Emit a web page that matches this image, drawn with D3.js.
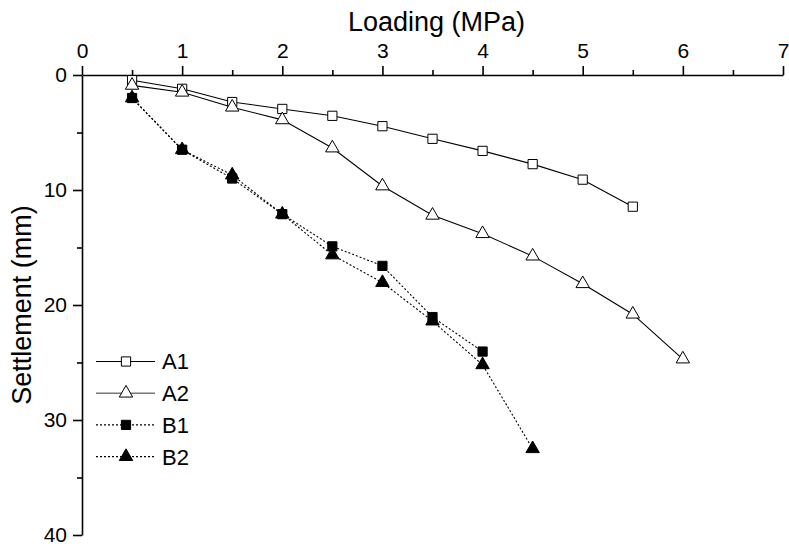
<!DOCTYPE html>
<html>
<head>
<meta charset="utf-8">
<script src="https://cdn.jsdelivr.net/npm/d3@7"></script>
<style>
  body { margin: 0; background: #fff; }
  svg text { font-family: Arial, "Liberation Sans", sans-serif; fill: #000; }
</style>
</head>
<body>
<svg id="chart"></svg>
<script>
// Loading steps (MPa)
const loadA1 = [0.5, 1, 1.5, 2, 2.5, 3, 3.5, 4, 4.5, 5, 5.5];
const loadA2 = [0.5, 1, 1.5, 2, 2.5, 3, 3.5, 4, 4.5, 5, 5.5, 6];
const loadB1 = [0.5, 1, 1.5, 2, 2.5, 3, 3.5, 4];
const loadB2 = [0.5, 1, 1.5, 2, 2.5, 3, 3.5, 4, 4.5];

// Settlement (mm)
const settleA1 = [0.45, 1.2, 2.35, 2.95, 3.55, 4.45, 5.55, 6.6, 7.75, 9.1, 11.45];
const settleA2 = [0.9, 1.5, 2.8, 3.9, 6.35, 9.65, 12.2, 13.8, 15.75, 18.15, 20.8, 24.7];
const settleB1 = [2.0, 6.5, 9.0, 12.1, 14.9, 16.6, 21.05, 24.05];
const settleB2 = [2.0, 6.5, 8.7, 12.1, 15.65, 18.05, 21.4, 25.2, 32.5];

const seriesNames = ["A1", "A2", "B1", "B2"];
const xTicks = [0, 1, 2, 3, 4, 5, 6, 7];
const yTicks = [0, 10, 20, 30, 40];

const width = 789;
const height = 550;
const margin = { top: 75, right: 6, bottom: 15, left: 82 };

const svg = d3.select("#chart")
    .attr("width", width)
    .attr("height", height);

// Scales
const x = d3.scaleLinear()
    .domain([0, 7])
    .range([margin.left, width - margin.right]);

const y = d3.scaleLinear()
    .domain([0, 40])
    .range([margin.top, height - margin.bottom]);

// Top axis (minor then major ticks)
svg.append("g")
    .attr("transform", `translate(0,${margin.top})`)
    .call(d3.axisTop(x).tickValues(d3.range(0.5, 7, 1)).tickSize(5).tickFormat(""))
    .call(g => g.select(".domain").remove());

svg.append("g")
    .attr("transform", `translate(0,${margin.top})`)
    .call(d3.axisTop(x).tickValues(xTicks).tickSize(9).tickSizeOuter(0).tickPadding(8).tickFormat(d3.format("d")))
    .call(g => g.selectAll("text").style("font-size", "21px"));

// Left axis
svg.append("g")
    .attr("transform", `translate(${margin.left},0)`)
    .call(d3.axisLeft(y).tickValues([5, 15, 25, 35]).tickSize(5).tickFormat(""))
    .call(g => g.select(".domain").remove());

svg.append("g")
    .attr("transform", `translate(${margin.left},0)`)
    .call(d3.axisLeft(y).tickValues(yTicks).tickSize(9).tickSizeOuter(0).tickPadding(6))
    .call(g => g.selectAll("text").style("font-size", "21px"));

svg.selectAll(".domain, .tick line")
    .attr("stroke", "#000")
    .attr("stroke-width", 1.6);

// Axis titles
svg.append("text")
    .attr("x", (x(0) + x(7)) / 2 + 4)
    .attr("y", 31)
    .attr("text-anchor", "middle")
    .style("font-size", "27px")
    .text("Loading (MPa)");

svg.append("text")
    .attr("transform", `translate(31,${(y(0) + y(40)) / 2}) rotate(-90)`)
    .attr("text-anchor", "middle")
    .style("font-size", "27px")
    .text("Settlement (mm)");

// Series
const series = [
    { name: seriesNames[0], xs: loadA1, ys: settleA1, symbol: d3.symbolSquare, size: 85, fill: "#fff", dash: null },
    { name: seriesNames[1], xs: loadA2, ys: settleA2, symbol: d3.symbolTriangle, size: 78, fill: "#fff", dash: null },
    { name: seriesNames[2], xs: loadB1, ys: settleB1, symbol: d3.symbolSquare, size: 85, fill: "#000", dash: "2,2" },
    { name: seriesNames[3], xs: loadB2, ys: settleB2, symbol: d3.symbolTriangle, size: 78, fill: "#000", dash: "2,2" }
];

const line = d3.line()
    .x(d => x(d[0]))
    .y(d => y(d[1]));

series.forEach(s => {
    s.pts = s.xs.map((v, i) => [v, s.ys[i]]);
    svg.append("path")
        .datum(s.pts)
        .attr("d", line)
        .attr("fill", "none")
        .attr("stroke", "#000")
        .attr("stroke-width", 1.1)
        .attr("stroke-dasharray", s.dash);
});

// Markers (drawn after all lines)
series.forEach(s => {
    svg.selectAll(null)
        .data(s.pts)
        .enter().append("path")
        .attr("transform", d => `translate(${x(d[0])},${y(d[1])})`)
        .attr("d", d3.symbol().type(s.symbol).size(s.size))
        .attr("fill", s.fill)
        .attr("stroke", "#000")
        .attr("stroke-width", 1);
});

// Legend
const legend = svg.append("g").attr("transform", "translate(96,361.5)");
series.forEach((s, i) => {
    const g = legend.append("g").attr("transform", `translate(0,${i * 31.7})`);
    g.append("line")
        .attr("x1", 0).attr("x2", 59)
        .attr("stroke", i === 1 ? "#777" : "#000")
        .attr("stroke-width", i === 1 ? 1.6 : 1.1)
        .attr("stroke-dasharray", s.dash);
    g.append("path")
        .attr("transform", "translate(30,0)")
        .attr("d", d3.symbol().type(s.symbol).size(s.size))
        .attr("fill", s.fill)
        .attr("stroke", "#000")
        .attr("stroke-width", 1);
    g.append("text")
        .attr("x", 66)
        .attr("y", 0)
        .attr("dy", "0.36em")
        .style("font-size", "22px")
        .text(s.name);
});
</script>
</body>
</html>
